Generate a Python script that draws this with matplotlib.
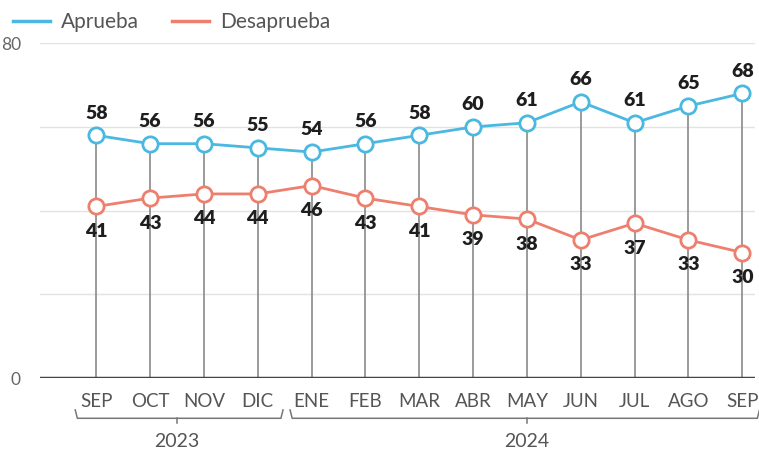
import matplotlib

matplotlib.use("Agg")
import matplotlib.pyplot as plt
from matplotlib.transforms import blended_transform_factory

plt.rcParams["font.family"] = ["Lato", "DejaVu Sans"]

months = ["SEP", "OCT", "NOV", "DIC", "ENE", "FEB", "MAR", "ABR", "MAY", "JUN", "JUL", "AGO", "SEP"]
aprueba = [58, 56, 56, 55, 54, 56, 58, 60, 61, 66, 61, 65, 68]
desaprueba = [41, 43, 44, 44, 46, 43, 41, 39, 38, 33, 37, 33, 30]
years = ["2023", "2024"]
year_spans = [(0, 3), (4, 12)]

BLUE = "#4ab8e0"
RED = "#ee7f6e"

fig = plt.figure(figsize=(7.59, 4.55), dpi=100)
ax = fig.add_axes([0.053, 0.169, 0.942, 0.736])

x = list(range(len(months)))

# gridlines
for g in (20, 40, 60, 80):
    ax.axhline(g, color="#e2e2e2", lw=1, zorder=0)

# drop lines from the approval point to the base
ax.vlines(x, 0, aprueba, color="#8a8a8a", lw=1.2, zorder=1)
ax.axhline(0, color="#444444", lw=2.5, zorder=2)

ax.plot(x, aprueba, color=BLUE, lw=2, marker="o", ms=11, mfc="white",
        mec=BLUE, mew=2, zorder=4, label="Aprueba")
ax.plot(x, desaprueba, color=RED, lw=2, marker="o", ms=11, mfc="white",
        mec=RED, mew=2, zorder=3, label="Desaprueba")

for xi, a, d in zip(x, aprueba, desaprueba):
    ax.annotate(str(a), (xi, a), xytext=(0, 16), textcoords="offset points",
                ha="center", va="center", fontsize=14, fontweight="heavy",
                color="#1e1e1e", zorder=5)
    ax.annotate(str(d), (xi, d), xytext=(0, -18), textcoords="offset points",
                ha="center", va="center", fontsize=14, fontweight="heavy",
                color="#1e1e1e", zorder=5)

ax.set_xlim(-1.04, 12.24)
ax.set_ylim(0, 80)
for s in ax.spines.values():
    s.set_visible(False)
ax.set_xticks(x)
ax.set_xticklabels(months, fontsize=13.5, color="#555555")
ax.tick_params(axis="x", length=0, pad=11)
ax.set_yticks([0, 80])
ax.set_yticklabels(["0", "80"], fontsize=12.5, color="#666666")
ax.tick_params(axis="y", length=0, pad=14)

# year brackets below the month labels
tr = blended_transform_factory(ax.transData, ax.transAxes)
y_line = -0.12
y_curl = -0.095
bracket_ends = [(-0.39, 3.47), (3.60, 12.32)]
for (x0, x1), (i0, i1), yr in zip(bracket_ends, year_spans, years):
    ax.plot([x0, x0 + 0.04, x1 - 0.04, x1], [y_curl, y_line, y_line, y_curl],
            transform=tr, color="#777777", lw=1.1, clip_on=False)
    xc = (i0 + i1) / 2
    ax.plot([xc, xc], [y_line, y_line - 0.015], transform=tr,
            color="#777777", lw=1.1, clip_on=False)
    ax.text(xc, -0.19, yr, transform=tr, ha="center", va="center",
            fontsize=14, color="#555555")

fig.legend(loc="upper left", bbox_to_anchor=(-0.008, 1.015), ncol=2, frameon=False,
           fontsize=15, handlelength=1.8, columnspacing=1.6, handletextpad=0.5,
           labelcolor="#555555")
for line in fig.legends[0].get_lines():
    line.set_marker("")
    line.set_linewidth(2.5)

fig.savefig("out.png", dpi=100)
